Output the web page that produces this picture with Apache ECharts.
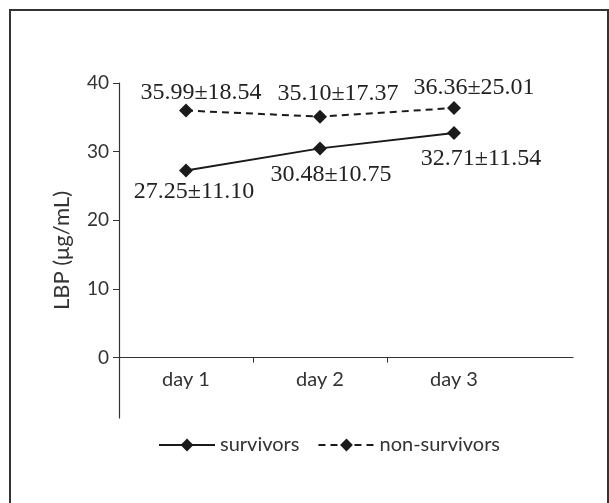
<!DOCTYPE html>
<html>
<head>
<meta charset="utf-8">
<style>
html,body{margin:0;padding:0;background:#fff;}
#chart{width:609px;height:503px;}
</style>
<script src="https://cdn.jsdelivr.net/npm/echarts@6/dist/echarts.min.js"></script>
</head>
<body>
<div id="chart"></div>
<script>
// ---- data ----
const categories = ['day 1', 'day 2', 'day 3'];
const survivorsMean = [27.25, 30.48, 32.71];
const survivorsSD = [11.10, 10.75, 11.54];
const nonSurvivorsMean = [35.99, 35.10, 36.36];
const nonSurvivorsSD = [18.54, 17.37, 25.01];
const yTickValues = [0, 10, 20, 30, 40];
const seriesNames = ['survivors', 'non-survivors'];
const yAxisName = 'LBP (\u03bcg/mL)';

// ---- layout (label nudges, not data) ----
const survLabelOffset = [[8, -3], [11, 2.5], [27, 2]];
const nonSurvLabelOffset = [[15, 6], [18, 1], [20, 4]];

const sansFont = 'Lato, "Open Sans", sans-serif';
const serifFont = '"Liberation Serif", "DejaVu Serif", serif';

function buildData(means, sds, offsets) {
  return means.map(function (m, i) {
    return {
      value: [i + 1, m],
      label: {
        formatter: m.toFixed(2) + '\u00b1' + sds[i].toFixed(2),
        offset: offsets[i]
      }
    };
  });
}

const chart = echarts.init(document.getElementById('chart'), null, {renderer: 'canvas'});
const option = {
  backgroundColor: '#fff',
  animation: false,
  graphic: [{
    type: 'rect',
    shape: {x: 10, y: 10, width: 598, height: 600},
    style: {fill: 'none', stroke: '#333', lineWidth: 2},
    silent: true
  }],
  grid: [
    {left: 119, top: 83, width: 454, height: 274.7, containLabel: false},
    {left: 119, top: 83, width: 454, height: 335, containLabel: false}
  ],
  legend: {
    left: 153,
    top: 430,
    itemWidth: 56,
    itemHeight: 16,
    itemGap: 18,
    textStyle: {fontFamily: sansFont, fontSize: 20, color: '#333'},
    data: seriesNames
  },
  xAxis: [{
    gridIndex: 0,
    type: 'value',
    min: 0.5,
    max: 0.5 + 454 / 134,
    splitLine: {show: false},
    axisLine: {show: true, onZero: false, lineStyle: {color: '#333', width: 1.2}},
    axisTick: {show: true, length: 5, customValues: [1.5, 2.5], lineStyle: {color: '#333'}},
    axisLabel: {
      customValues: [1, 2, 3],
      formatter: function (v) { return categories[Math.round(v) - 1]; },
      fontFamily: sansFont, fontSize: 20, color: '#333', margin: 12
    }
  }, {
    gridIndex: 1,
    type: 'value',
    min: 0, max: 1,
    show: false
  }],
  yAxis: [{
    gridIndex: 0,
    type: 'value',
    min: 0,
    max: 40,
    interval: 10,
    splitLine: {show: false},
    axisLine: {show: false},
    axisTick: {show: true, length: 6, lineStyle: {color: '#333'}},
    axisLabel: {fontFamily: sansFont, fontSize: 19, color: '#333', margin: 10}
  }, {
    gridIndex: 1,
    type: 'value',
    min: -8.8,
    max: 40,
    name: yAxisName,
    nameLocation: 'middle',
    nameGap: 46,
    nameTextStyle: {fontFamily: sansFont, fontSize: 22, color: '#333'},
    splitLine: {show: false},
    axisLine: {show: true, onZero: false, lineStyle: {color: '#333', width: 1.2}},
    axisTick: {show: false},
    axisLabel: {show: false}
  }],
  series: [
    {
      name: seriesNames[0],
      type: 'line',
      xAxisIndex: 0, yAxisIndex: 0,
      symbol: 'diamond',
      symbolSize: 14,
      itemStyle: {color: '#1a1a1a'},
      lineStyle: {color: '#1a1a1a', width: 2},
      label: {show: true, position: 'bottom', fontFamily: serifFont, fontSize: 24, color: '#222'},
      data: buildData(survivorsMean, survivorsSD, survLabelOffset)
    },
    {
      name: seriesNames[1],
      type: 'line',
      xAxisIndex: 0, yAxisIndex: 0,
      symbol: 'diamond',
      symbolSize: 14,
      itemStyle: {color: '#1a1a1a'},
      lineStyle: {color: '#1a1a1a', width: 2, type: [7, 5]},
      label: {show: true, position: 'top', fontFamily: serifFont, fontSize: 24, color: '#222'},
      data: buildData(nonSurvivorsMean, nonSurvivorsSD, nonSurvLabelOffset)
    }
  ]
};
chart.setOption(option);
</script>
</body>
</html>
